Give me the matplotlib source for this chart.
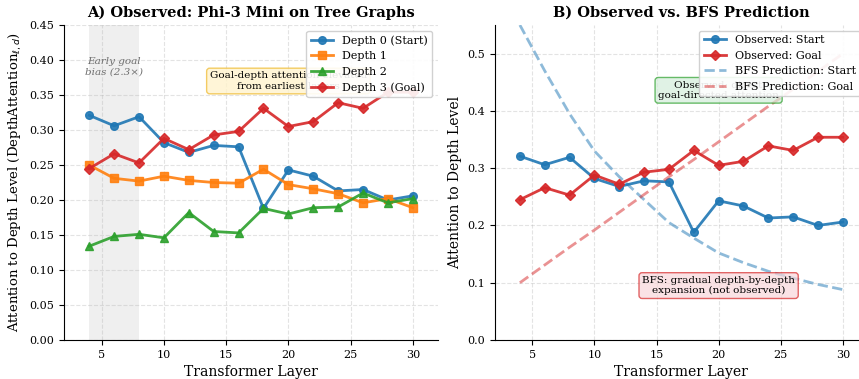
import numpy as np
import matplotlib
matplotlib.use('Agg')
import matplotlib.pyplot as plt

plt.rcParams['font.family'] = 'serif'
plt.rcParams['font.serif'] = ['DejaVu Serif']

# data
layers = [4, 6, 8, 10, 12, 14, 16, 18, 20, 22, 24, 26, 28, 30]
depth0 = [0.321, 0.306, 0.319, 0.282, 0.268, 0.278, 0.276, 0.188, 0.243, 0.234, 0.213, 0.215, 0.200, 0.206]
depth1 = [0.250, 0.231, 0.227, 0.234, 0.228, 0.225, 0.224, 0.244, 0.222, 0.216, 0.209, 0.196, 0.202, 0.189]
depth2 = [0.134, 0.148, 0.151, 0.146, 0.182, 0.155, 0.153, 0.188, 0.180, 0.189, 0.190, 0.210, 0.196, 0.202]
depth3 = [0.245, 0.266, 0.253, 0.288, 0.272, 0.293, 0.298, 0.331, 0.305, 0.312, 0.339, 0.331, 0.354, 0.354]
bfs_start = [0.550, 0.470, 0.395, 0.330, 0.285, 0.245, 0.205, 0.178, 0.152, 0.135, 0.120, 0.108, 0.097, 0.088]
bfs_goal = [0.100, 0.131, 0.162, 0.192, 0.223, 0.254, 0.285, 0.315, 0.346, 0.377, 0.408, 0.438, 0.469, 0.500]

c_blue = '#1f77b4'
c_orange = '#ff7f0e'
c_green = '#2ca02c'
c_red = '#d62728'

fig = plt.figure(figsize=(8.59, 3.79), dpi=100)
ax1 = fig.add_axes([0.0749, 0.1029, 0.4347, 0.8311])
ax2 = fig.add_axes([0.5763, 0.1029, 0.4338, 0.8311])

# ---- panel A ----
ax1.axvspan(4, 8, color='gray', alpha=0.12, lw=0, zorder=0)
ax1.plot(layers, depth0, '-o', color=c_blue, lw=2, ms=5.5, alpha=0.9, label='Depth 0 (Start)')
ax1.plot(layers, depth1, '-s', color=c_orange, lw=2, ms=5.5, alpha=0.9, label='Depth 1')
ax1.plot(layers, depth2, '-^', color=c_green, lw=2, ms=5.5, alpha=0.9, label='Depth 2')
ax1.plot(layers, depth3, '-D', color=c_red, lw=2, ms=5.5, alpha=0.9, label='Depth 3 (Goal)')
ax1.text(6, 0.39, 'Early goal\nbias (2.3\u00d7)', ha='center', va='center', fontsize=7.5,
         style='italic', color='#707070')
ax1.text(20, 0.37, 'Goal-depth attention elevated\nfrom earliest layers', ha='center', va='center',
         fontsize=7.5, bbox=dict(boxstyle='round,pad=0.3', facecolor='#fff3cd', edgecolor='#f0c040', alpha=0.8))
ax1.set_xlim(2, 32)
ax1.set_ylim(0, 0.45)
ax1.set_yticks(np.arange(0, 0.451, 0.05))
ax1.set_xlabel('Transformer Layer', fontsize=10)
ax1.set_ylabel('Attention to Depth Level (DepthAttention$_{\\ell,d}$)', fontsize=9.5)
ax1.set_title('A) Observed: Phi-3 Mini on Tree Graphs', fontsize=10.5, fontweight='bold')
ax1.legend(loc='upper right', fontsize=8, framealpha=0.9)

# ---- panel B ----
ax2.plot(layers, depth0, '-o', color=c_blue, lw=2, ms=5.5, alpha=0.9, label='Observed: Start')
ax2.plot(layers, depth3, '-D', color=c_red, lw=2, ms=5.5, alpha=0.9, label='Observed: Goal')
ax2.plot(layers, bfs_start, '--', color=c_blue, lw=2, alpha=0.5, label='BFS Prediction: Start')
ax2.plot(layers, bfs_goal, '--', color=c_red, lw=2, alpha=0.5, label='BFS Prediction: Goal')
ax2.text(20, 0.436, 'Observed: direct\ngoal-directed attention', ha='center', va='center', fontsize=7.5,
         bbox=dict(boxstyle='round,pad=0.3', facecolor='#d4edda', edgecolor='#2ca02c', alpha=0.7))
ax2.text(20, 0.095, 'BFS: gradual depth-by-depth\nexpansion (not observed)', ha='center', va='center', fontsize=7.5,
         bbox=dict(boxstyle='round,pad=0.3', facecolor='#f8d7da', edgecolor=c_red, alpha=0.7))
ax2.set_xlim(2, 32)
ax2.set_ylim(0, 0.55)
ax2.set_xlabel('Transformer Layer', fontsize=10)
ax2.set_ylabel('Attention to Depth Level', fontsize=10)
ax2.set_title('B) Observed vs. BFS Prediction', fontsize=10.5, fontweight='bold')
ax2.legend(loc='upper right', bbox_to_anchor=(0.995, 1.0), fontsize=8, framealpha=0.9)

for ax in (ax1, ax2):
    ax.grid(True, linestyle='--', alpha=0.35)
    ax.spines['top'].set_visible(False)
    ax.spines['right'].set_visible(False)
    ax.tick_params(labelsize=8)

fig.savefig('out.png', dpi=100)
